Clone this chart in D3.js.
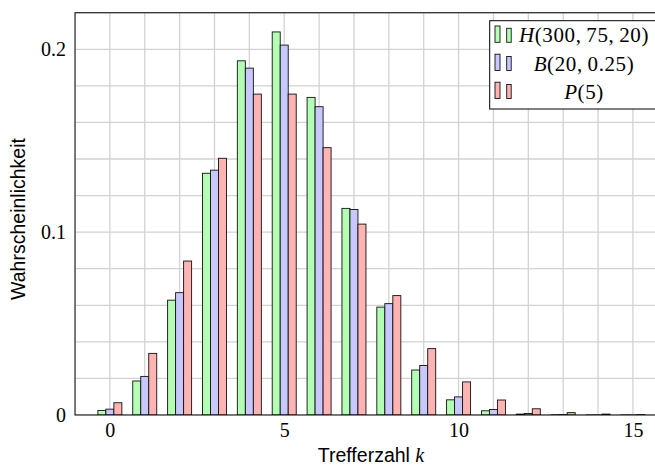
<!DOCTYPE html>
<html><head><meta charset="utf-8">
<script src="https://cdn.jsdelivr.net/npm/d3@7"></script>
<style>body{margin:0;background:#fff}svg{display:block}</style>
</head><body>
<svg id="c" width="655" height="468"></svg>
<script>
const ks = [0,1,2,3,4,5,6,7,8,9,10,11,12,13,14,15];
const hyper = [0.0025,0.0186,0.0628,0.1322,0.1937,0.2095,0.1737,0.1130,0.0590,0.0246,0.0083,0.0023,0.0005,0.0001,0.00002,0.000002];
const binom = [0.0032,0.0211,0.0669,0.1339,0.1897,0.2023,0.1686,0.1124,0.0609,0.0271,0.0099,0.0030,0.0008,0.0002,0.00003,0.000004];
const pois  = [0.0067,0.0337,0.0842,0.1404,0.1755,0.1755,0.1462,0.1044,0.0653,0.0363,0.0181,0.0082,0.0034,0.0013,0.0005,0.0002];
const seriesNames = ["H","B","P"];
const seriesArgs = ["(300,\u200975,\u200920)","(20,\u20090.25)","(5)"];
const seriesColors = ["#b3ffb3","#c8c8ff","#ffb3b3"];
const xTicks = [0,5,10,15];
const yTicks = [0,0.1,0.2];
const yLabels = ["0","0.1","0.2"];

const svg = d3.select("#c");
const L=75, T=12.3, B=415;
const x = d3.scaleLinear().domain([-1,16]).range([L, L+17*34.87]);
const y = d3.scaleLinear().domain([0,0.22]).range([B, B-0.22/0.2*365.7]);
const R = x(16);
const serif = "'Liberation Serif', serif";
const sans = "'Liberation Sans', Arial, sans-serif";

svg.append("defs").append("clipPath").attr("id","clip")
  .append("rect").attr("x",L).attr("y",y(0.22)).attr("width",R-L).attr("height",B-y(0.22));

// grid
const g = svg.append("g").attr("clip-path","url(#clip)");
g.selectAll(".vg").data(d3.range(-1,17)).join("line")
  .attr("x1",d=>x(d)).attr("x2",d=>x(d)).attr("y1",y(0.22)).attr("y2",B)
  .attr("stroke","#d2d2d2").attr("stroke-width",1.3);
g.selectAll(".hg").data(d3.range(0,0.2201,0.02)).join("line")
  .attr("x1",L).attr("x2",R).attr("y1",d=>y(d)).attr("y2",d=>y(d))
  .attr("stroke","#d2d2d2").attr("stroke-width",1.3);

// bars
const bw = 8/34.87;
const data = [hyper, binom, pois];
data.forEach((vals, si) => {
  g.selectAll(".b"+si).data(ks).join("rect")
    .attr("x", (k)=>x(k + (si-1)*bw - bw/2))
    .attr("width", x(bw)-x(0))
    .attr("y", (k,i)=>y(vals[i]))
    .attr("height", (k,i)=>B - y(vals[i]))
    .attr("fill", seriesColors[si])
    .attr("stroke","#111").attr("stroke-width",0.9);
});

// axis box
svg.append("rect").attr("x",L).attr("y",y(0.22)).attr("width",R-L).attr("height",B-y(0.22))
  .attr("fill","none").attr("stroke","#000").attr("stroke-width",1);

// axes labels via d3 axes
const ax = svg.append("g").attr("transform",`translate(0,${B})`)
  .call(d3.axisBottom(x).tickValues(xTicks).tickSize(0).tickPadding(8).tickFormat(d3.format("d")));
ax.select(".domain").remove();
ax.selectAll("text").attr("font-family",serif).attr("font-size",20).attr("fill","#000");

const ay = svg.append("g").attr("transform",`translate(${L},0)`)
  .call(d3.axisLeft(y).tickValues(yTicks).tickSize(0).tickPadding(9).tickFormat((d,i)=>yLabels[i]));
ay.select(".domain").remove();
ay.selectAll("text").attr("font-family",serif).attr("font-size",20).attr("fill","#000");

// axis titles
const xt = svg.append("text").attr("x",371).attr("y",462).attr("text-anchor","middle")
  .attr("font-family",sans).attr("font-size",19.5);
xt.append("tspan").text("Trefferzahl ");
xt.append("tspan").attr("font-family",serif).attr("font-style","italic").attr("font-size",20).text("k");

svg.append("text").attr("transform","translate(25,219) rotate(-90)").attr("text-anchor","middle")
  .attr("font-family",sans).attr("font-size",19.5).text("Wahrscheinlichkeit");

// legend
const lg = svg.append("g");
lg.append("rect").attr("x",489.7).attr("y",20.7).attr("width",170).attr("height",88.3)
  .attr("fill","#fff").attr("stroke","#000").attr("stroke-width",1);
const rowBase = [42.3, 70.5, 98.5];
seriesNames.forEach((nm, i) => {
  const b = rowBase[i];
  lg.append("rect").attr("x",495).attr("y",b-16.3).attr("width",5).attr("height",16.3)
    .attr("fill",seriesColors[i]).attr("stroke","#111").attr("stroke-width",0.9);
  lg.append("rect").attr("x",506.7).attr("y",b-14).attr("width",4.5).attr("height",14)
    .attr("fill",seriesColors[i]).attr("stroke","#111").attr("stroke-width",0.9);
  const t = lg.append("text").attr("x",584).attr("y",b).attr("text-anchor","middle")
    .attr("font-family",serif).attr("font-size",21).attr("letter-spacing",0.6);
  t.append("tspan").attr("font-style","italic").text(nm);
  t.append("tspan").text(seriesArgs[i]);
});
</script>
</body></html>
